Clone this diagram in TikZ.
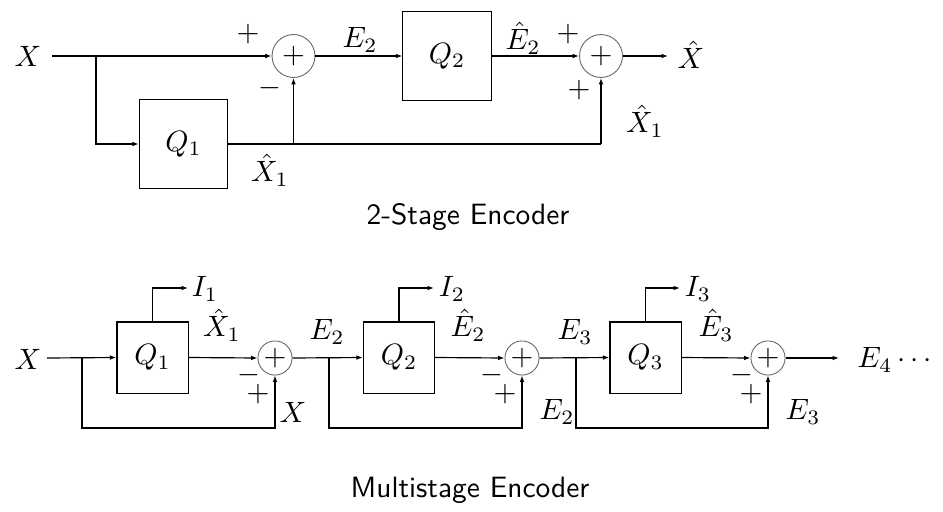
\documentclass[tikz,border=0pt]{standalone}
\usetikzlibrary{arrows.meta}
\begin{document}
\begin{tikzpicture}[x=0.34pt,y=-0.34pt,
  arr/.style={-{Latex[length=2.2pt,width=1.6pt]}},
  ln/.style={line width=0.4pt},
  sumnode/.style={circle,draw=black!60,line width=0.3pt,inner sep=0pt},
  bigsum/.style={sumnode,minimum size=14.6pt},
  smallsum/.style={sumnode,minimum size=11.6pt},
  bigq/.style={draw,line width=0.4pt,minimum width=30pt,minimum height=30pt,inner sep=0pt},
  smallq/.style={draw,line width=0.4pt,minimum width=24.2pt,minimum height=24.2pt,inner sep=0pt},
  lab/.style={inner sep=0pt},
  captext/.style={font=\sffamily,inner sep=0pt}]
\useasboundingbox (0,0) rectangle (943,511);
% ---------- 2-stage encoder ----------
\node[lab] (tX) at (28,56) {$X$};
\coordinate (tin) at (52,56);
\coordinate (tb1) at (96,56);
\node[bigsum] (ts1) at (293.5,56) {$+$};
\node[bigq] (tQ1) at (183.5,144) {$Q_1$};
\node[bigq] (tQ2) at (447,56) {$Q_2$};
\node[bigsum] (ts2) at (601,56) {$+$};
\coordinate (tj1) at (293.5,144);
\coordinate (tj2) at (601,144);
\coordinate (tout) at (668,56);
\draw[ln,arr] (tin) -- (ts1.west);
\draw[ln,arr] (tb1) |- (tQ1.west);
\draw[ln] (tQ1.east) -- (tj2);
\draw[ln,arr] (tj1) -- (ts1.south);
\draw[ln,arr] (tj2) -- (ts2.south);
\draw[ln,arr] (ts1.east) -- (tQ2.west);
\draw[ln,arr] (tQ2.east) -- (ts2.west);
\draw[ln,arr] (ts2.east) -- (tout);
\node[lab] (tp1) at (248,34) {$+$};
\node[lab] (tm1) at (270,88) {$-$};
\node[lab] (tXh1) at (270,170) {$\hat{X}_1$};
\node[lab] (tE2) at (360,40) {$E_2$};
\node[lab] (tEh2) at (523,38) {$\hat{E}_2$};
\node[lab] (tp2) at (568,34) {$+$};
\node[lab] (tp3) at (579,90) {$+$};
\node[lab] (tXh1b) at (645,121) {$\hat{X}_1$};
\node[lab,anchor=west] (tXh) at (677,55) {$\hat{X}$};
\node[captext] (tcap) at (468,217) {2-Stage Encoder};
% ---------- multistage encoder ----------
\node[lab] (bX) at (28,359) {$X$};
\coordinate (bin) at (47,358);
\coordinate (bb1) at (82,358);
\node[smallq] (bQ1) at (152.5,357.5) {$Q_1$};
\node[smallsum] (bs1) at (275,358) {$+$};
\coordinate (bb2) at (329,358);
\node[smallq] (bQ2) at (399,357.5) {$Q_2$};
\node[smallsum] (bs2) at (522,358) {$+$};
\coordinate (bb3) at (576,358);
\node[smallq] (bQ3) at (645.5,357.5) {$Q_3$};
\node[smallsum] (bs3) at (768,358) {$+$};
\coordinate (bout) at (839,358);
\coordinate (bl1) at (82,428);
\coordinate (bl2) at (329,428);
\coordinate (bl3) at (576,428);
\coordinate (bi1) at (152.5,288);
\coordinate (bi2) at (399,288);
\coordinate (bi3) at (645.5,288);
\coordinate (bo1) at (188,288);
\coordinate (bo2) at (434,288);
\coordinate (bo3) at (680,288);
\draw[ln,arr] (bin) -- (bQ1.west);
\draw[ln,arr] (bQ1.east) -- (bs1.west);
\draw[ln,arr] (bs1.east) -- (bQ2.west);
\draw[ln,arr] (bQ2.east) -- (bs2.west);
\draw[ln,arr] (bs2.east) -- (bQ3.west);
\draw[ln,arr] (bQ3.east) -- (bs3.west);
\draw[ln,arr] (bs3.east) -- (bout);
\draw[ln,arr] (bb1) -- (bl1) -| (bs1.south);
\draw[ln,arr] (bb2) -- (bl2) -| (bs2.south);
\draw[ln,arr] (bb3) -- (bl3) -| (bs3.south);
\draw[ln,arr] (bQ1.north) -- (bi1) -- (bo1);
\draw[ln,arr] (bQ2.north) -- (bi2) -- (bo2);
\draw[ln,arr] (bQ3.north) -- (bi3) -- (bo3);
\node[lab] (bI1) at (205,289) {$I_1$};
\node[lab] (bI2) at (452,289) {$I_2$};
\node[lab] (bI3) at (698,289) {$I_3$};
\node[lab] (bXh1) at (222,325) {$\hat{X}_1$};
\node[lab] (bEh2) at (468,325) {$\hat{E}_2$};
\node[lab] (bEh3) at (716,325) {$\hat{E}_3$};
\node[lab] (bE2a) at (327,332) {$E_2$};
\node[lab] (bE3a) at (575,332) {$E_3$};
\node[lab] (bm1) at (249,375) {$-$};
\node[lab] (bm2) at (492,375) {$-$};
\node[lab] (bm3) at (742,375) {$-$};
\node[lab] (bp1) at (258,394) {$+$};
\node[lab] (bp2) at (505,394) {$+$};
\node[lab] (bp3) at (751,394) {$+$};
\node[lab] (bX2) at (293,412) {$X$};
\node[lab] (bE2b) at (557,412) {$E_2$};
\node[lab] (bE3b) at (803,412) {$E_3$};
\node[lab,anchor=west] (bE4) at (857,360) {$E_4\cdots$};
\node[captext] (bcap) at (470,490) {Multistage Encoder};
\end{tikzpicture}
\end{document}
